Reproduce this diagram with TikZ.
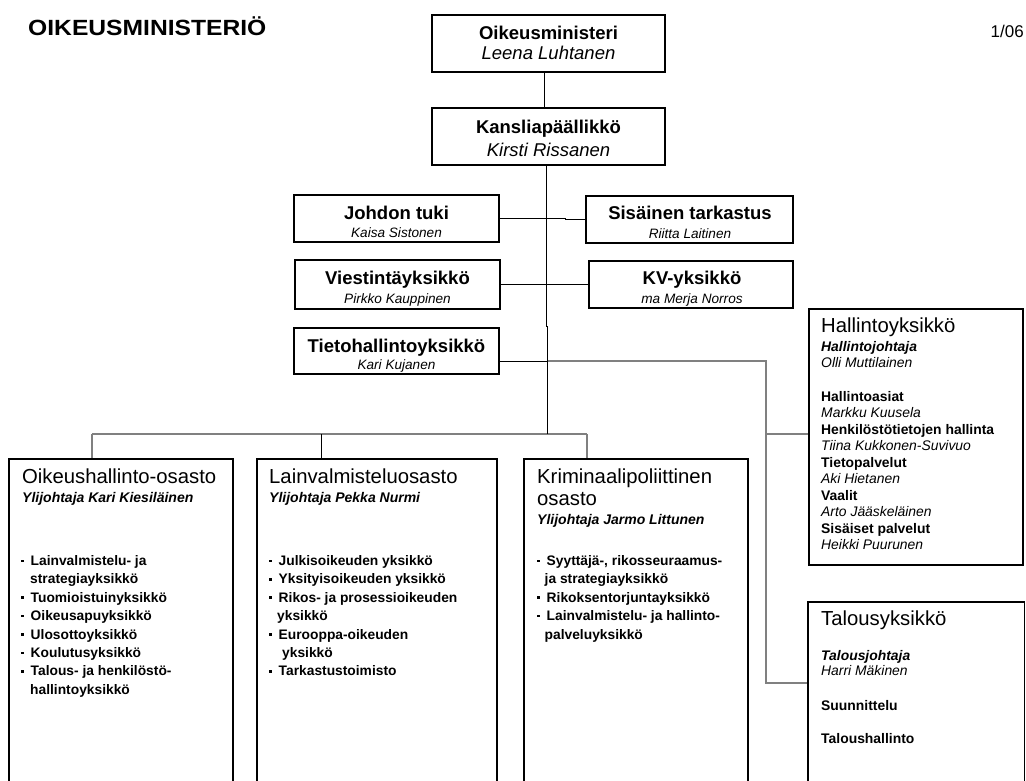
\documentclass[tikz,border=0pt]{standalone}
\usepackage{fontspec}
\setmainfont{Liberation Sans}
\newfontfamily\widefont[FakeStretch=1.12]{Liberation Sans}
\usetikzlibrary{fit}
\newcommand\obull{\rule[3.4pt]{3pt}{2.6pt}\hspace{6.5pt}}
\begin{document}
\begin{tikzpicture}[x=1pt,y=-1pt,
  box/.style={draw=black, line width=1.2pt, inner sep=0pt},
  conn/.style={draw=black, line width=0.9pt},
  gconn/.style={draw=black!50, line width=1.1pt},
  ttl/.style={font=\fontsize{22}{24}\selectfont\bfseries, inner sep=0pt, anchor=base west},
  pg/.style={font=\fontsize{17}{19}\selectfont, inner sep=0pt, anchor=base east},
  tb/.style={font=\fontsize{18.5}{20}\selectfont\bfseries, inner sep=0pt, anchor=base},
  tn/.style={font=\fontsize{18.5}{20}\selectfont\itshape, inner sep=0pt, anchor=base},
  sn/.style={font=\fontsize{13.6}{15}\selectfont\itshape, inner sep=0pt, anchor=base},
  dt/.style={font=\fontsize{20.3}{22}\selectfont, inner sep=0pt, anchor=base west},
  yl/.style={font=\fontsize{14}{16}\selectfont\bfseries\itshape, inner sep=0pt, anchor=base west},
  bl/.style={font=\fontsize{13.8}{16}\selectfont\bfseries, inner sep=0pt, anchor=base west},
  sm/.style={font=\fontsize{13.9}{16}\selectfont, inner sep=0pt, anchor=base west}
]
\fill[white] (0,0) rectangle (1026,780);
\useasboundingbox (0,0) rectangle (1026,780);

% header
\node[ttl] (title) at (28,35.5) {\widefont OIKEUSMINISTERIÖ};
\node[pg] (page) at (1024,37) {1/06};

% boxes
\node[box, fit={(432,15) (665,72)}] (om) {};
\node[box, fit={(432,108) (665,165)}] (kp) {};
\node[box, fit={(294,195) (499,242)}] (jt) {};
\node[box, fit={(586,196) (793,243)}] (st) {};
\node[box, fit={(295,260) (500,309)}] (vi) {};
\node[box, fit={(589,261) (793,308)}] (kv) {};
\node[box, fit={(294,328) (499,374)}] (th) {};
\node[box, fit={(9,459) (233,800)}] (oh) {};
\node[box, fit={(257,459) (497,800)}] (lv) {};
\node[box, fit={(524,459) (748,800)}] (kr) {};
\node[box, fit={(809,309) (1023,565)}] (hy) {};
\node[box, fit={(808,602) (1024.5,800)}] (ty) {};

% connectors
\coordinate (bus) at (547,434);
\coordinate (b1) at (92,434);
\coordinate (b2) at (321,434);
\coordinate (b3) at (587,434);
\coordinate (thj) at (547,361);
\coordinate (tj) at (766,361);
\coordinate (hyj) at (766,434);
\coordinate (tk) at (766,683);

\draw[gconn] (b1) -- (b3);
\draw[gconn] (b1) -- (b1 |- oh.north);
\draw[conn] (b2) -- (b2 |- lv.north);
\draw[gconn] (b3) -- (b3 |- kr.north);
\draw[gconn] (thj) -- (tj) -- (tk) -- (tk -| ty.west);
\draw[gconn] (hyj) -- (hyj -| hy.west);
\draw[conn] ([yshift=-10pt]th.east) -- (thj);
\draw[conn] (jt.east) -- ++(66,0) |- (st.west);
\draw[conn] (vi.east) -- (kv.west);
\draw[conn] ([xshift=-4.5pt]om.south) -- ([xshift=-4.5pt]kp.north);
\draw[conn] ([xshift=-2.5pt]kp.south) -- ++(0,161) -- ++(1,0) -- (bus);

% centre texts
\node[tb] (omA) at (548.5,39.5) {Oikeusministeri};
\node[tn] (omB) at (548.5,59.5) {Leena Luhtanen};
\node[tb] (kpA) at (548.5,133.5) {Kansliapäällikkö};
\node[tn] (kpB) at (548.5,156) {Kirsti Rissanen};
\node[tb] (jtA) at (396.5,219.5) {Johdon tuki};
\node[sn] (jtB) at (396.5,237) {Kaisa Sistonen};
\node[tb] (stA) at (690,219.5) {Sisäinen tarkastus};
\node[sn] (stB) at (690,238) {Riitta Laitinen};
\node[tb] (viA) at (397.5,284.5) {Viestintäyksikkö};
\node[sn] (viB) at (397.5,303) {Pirkko Kauppinen};
\node[tb] (kvA) at (692,284.5) {KV-yksikkö};
\node[sn] (kvB) at (692,303) {ma Merja Norros};
\node[tb] (thA) at (396.5,352.5) {Tietohallintoyksikkö};
\node[sn] (thB) at (396.5,369.5) {Kari Kujanen};

% Oikeushallinto-osasto
\node[dt] (ohA) at (22,483.5) {Oikeushallinto-osasto};
\node[yl] (ohB) at (22,502.5) {Ylijohtaja Kari Kiesiläinen};
\foreach \t [count=\i from 0] in {{\obull Lainvalmistelu- ja},{\hspace{9pt}strategiayksikkö},{\obull Tuomioistuinyksikkö},{\obull Oikeusapuyksikkö},{\obull Ulosottoyksikkö},{\obull Koulutusyksikkö},{\obull Talous- ja henkilöstö-},{\hspace{9pt}hallintoyksikkö}}
  \node[bl] (ohl\i) at (21,{565.5+18.4*\i}) {\t};

% Lainvalmisteluosasto
\node[dt] (lvA) at (269,483.5) {Lainvalmisteluosasto};
\node[yl] (lvB) at (269,502) {Ylijohtaja Pekka Nurmi};
\foreach \t [count=\i from 0] in {{\obull Julkisoikeuden yksikkö},{\obull Yksityisoikeuden yksikkö},{\obull Rikos- ja prosessioikeuden},{\hspace{8pt}yksikkö},{\obull Eurooppa-oikeuden},{\hspace{13pt}yksikkö},{\obull Tarkastustoimisto}}
  \node[bl] (lvl\i) at (269,{565.5+18.4*\i}) {\t};

% Kriminaalipoliittinen osasto
\node[dt] (krA) at (537,483.5) {Kriminaalipoliittinen};
\node[dt] (krB) at (537,505) {osasto};
\node[yl] (krC) at (537,524) {Ylijohtaja Jarmo Littunen};
\foreach \t [count=\i from 0] in {{\obull Syyttäjä-, rikosseuraamus-},{\hspace{7.5pt}ja strategiayksikkö},{\obull Rikoksentorjuntayksikkö},{\obull Lainvalmistelu- ja hallinto-},{\hspace{7.5pt}palveluyksikkö}}
  \node[bl] (krl\i) at (537,{565.5+18.4*\i}) {\t};

% Hallintoyksikkö
\node[dt] (hyA) at (821,332.5) {Hallintoyksikkö};
\node[sm] (hyB) at (821,351) {\bfseries\itshape Hallintojohtaja};
\node[sm] (hyC) at (821,367) {\itshape Olli Muttilainen};
\foreach \t [count=\i from 0] in {{\bfseries Hallintoasiat},{\itshape Markku Kuusela},{\bfseries Henkilöstötietojen hallinta},{\itshape Tiina Kukkonen-Suvivuo},{\bfseries Tietopalvelut},{\itshape Aki Hietanen},{\bfseries Vaalit},{\itshape Arto Jääskeläinen},{\bfseries Sisäiset palvelut},{\itshape Heikki Puurunen}}
  \node[sm] (hyl\i) at (821,{401+16.5*\i}) {\t};

% Talousyksikkö
\node[dt] (tyA) at (821,625) {Talousyksikkö};
\node[sm] (tyB) at (821,660) {\bfseries\itshape Talousjohtaja};
\node[sm] (tyC) at (821,675) {\itshape Harri Mäkinen};
\node[sm] (tyD) at (821,710) {\bfseries Suunnittelu};
\node[sm] (tyE) at (821,743) {\bfseries Taloushallinto};
\end{tikzpicture}
\end{document}
